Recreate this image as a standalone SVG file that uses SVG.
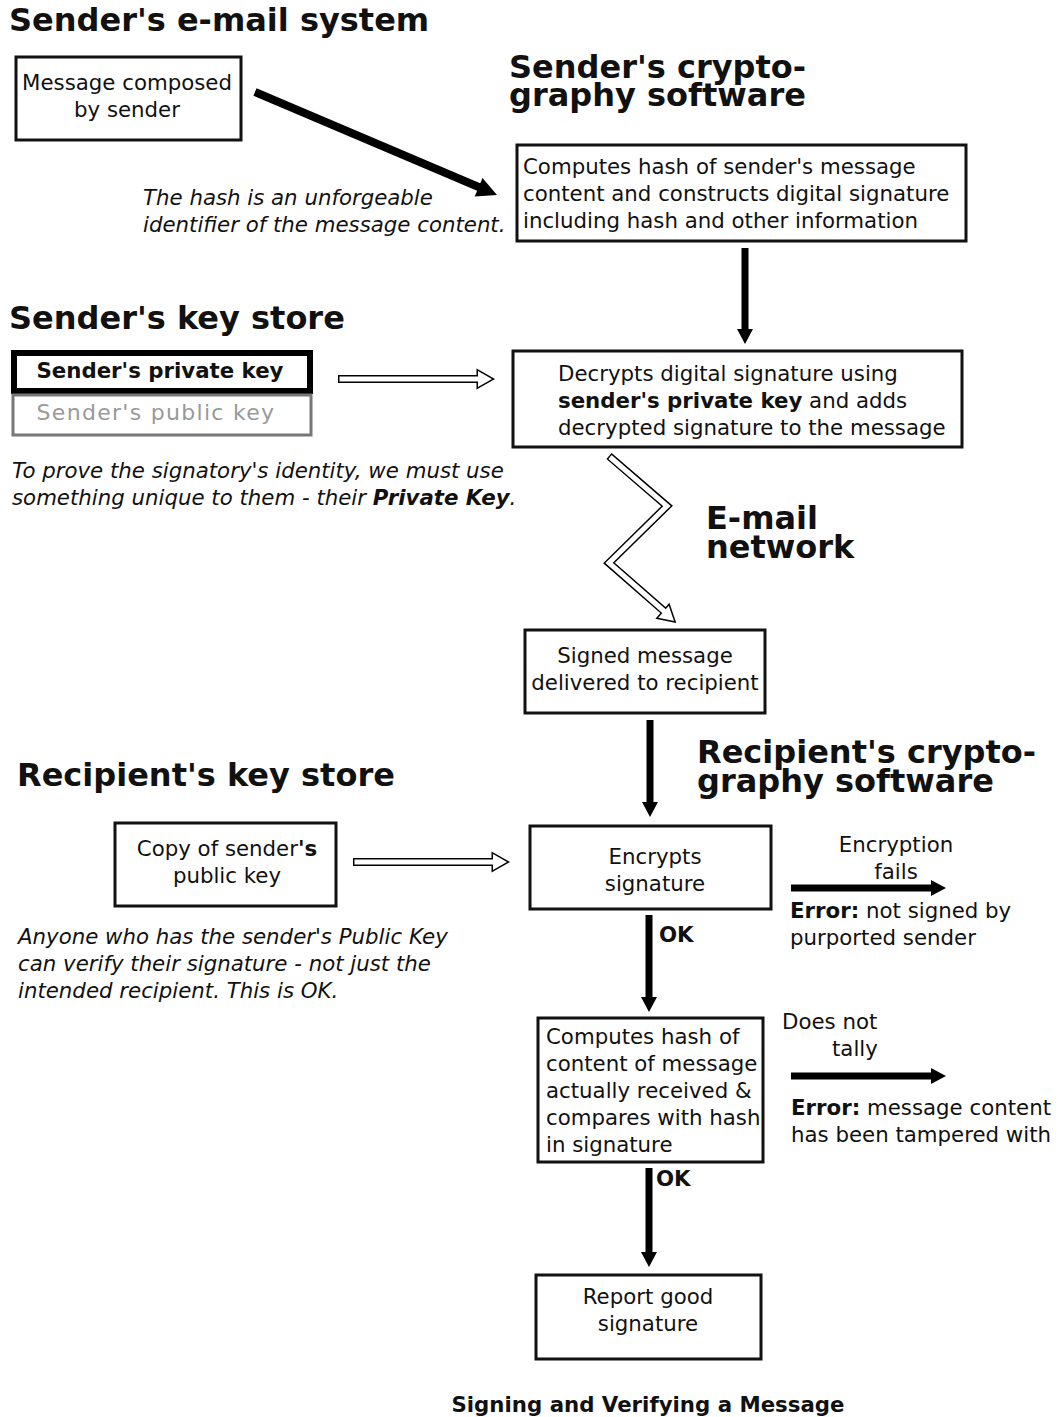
<svg xmlns="http://www.w3.org/2000/svg" width="1063" height="1417" viewBox="0 0 1063 1417">
<style>
text{font-family:"DejaVu Sans","Liberation Sans",sans-serif;fill:#111;}
.h{font-size:32px;font-weight:bold;}
.t{font-size:21.3px;}
.i{font-size:21.3px;font-style:italic;}
.c{text-anchor:middle;}
.b{font-weight:bold;}
.box{fill:#fff;stroke:#111;stroke-width:3;}
.ln{stroke:#000;stroke-width:7;fill:none;}
.hd{fill:#000;}
.ho{stroke:#000;stroke-width:8;fill:none;stroke-linejoin:miter;}
.hi{stroke:#fff;stroke-width:5;fill:none;stroke-linejoin:miter;}
</style>
<rect width="1063" height="1417" fill="#fff"/>

<g id="titles">
<text class="h" x="9" y="31">Sender's e-mail system</text>
<text class="h" x="509" y="78">Sender's crypto-<tspan x="509" dy="28">graphy software</tspan></text>
<text class="h" x="9" y="329">Sender's key store</text>
<text class="h" x="706" y="529">E-mail<tspan x="706" dy="29">network</tspan></text>
<text class="h" x="17" y="786">Recipient's key store</text>
<text class="h" x="697" y="763">Recipient's crypto-<tspan x="697" dy="29">graphy software</tspan></text>
<text class="t b c" x="648" y="1412">Signing and Verifying a Message</text>
</g>

<g id="notes">
<text class="i" x="143" y="205">The hash is an unforgeable</text>
<text class="i" x="143" y="232">identifier of the message content.</text>
<text class="i" x="12" y="478">To prove the signatory's identity, we must use</text>
<text class="i" x="12" y="505">something unique to them - their <tspan class="b">Private Key</tspan>.</text>
<text class="i" x="18" y="944">Anyone who has the sender's Public Key</text>
<text class="i" x="18" y="971">can verify their signature - not just the</text>
<text class="i" x="18" y="998">intended recipient. This is OK.</text>
</g>

<g id="n-composed">
<rect class="box" x="16" y="57" width="225" height="83"/>
<text class="t c" x="127" y="90">Message composed</text>
<text class="t c" x="127" y="117">by sender</text>
</g>

<g id="n-hash">
<rect class="box" x="517" y="145" width="449" height="96"/>
<text class="t" x="523" y="174">Computes hash of sender's message</text>
<text class="t" x="523" y="201">content and constructs digital signature</text>
<text class="t" x="523" y="228">including hash and other information</text>
</g>

<g id="n-private">
<rect x="14" y="353" width="296" height="38" fill="#fff" stroke="#000" stroke-width="6"/>
<text class="t b c" x="160" y="378">Sender's private key</text>
</g>
<g id="n-public">
<rect x="13" y="395" width="298" height="40" fill="#fff" stroke="#777" stroke-width="3"/>
<text class="c" x="156" y="420" style="fill:#999;font-size:22px;letter-spacing:1.3px">Sender's public key</text>
</g>

<g id="n-decrypt">
<rect class="box" x="513" y="351" width="449" height="96"/>
<text class="t" x="558" y="381">Decrypts digital signature using</text>
<text class="t" x="558" y="408"><tspan class="b">sender's private key</tspan> and adds</text>
<text class="t" x="558" y="435">decrypted signature to the message</text>
</g>

<g id="n-delivered">
<rect class="box" x="525" y="630" width="240" height="83"/>
<text class="t c" x="645" y="663">Signed message</text>
<text class="t c" x="645" y="690">delivered to recipient</text>
</g>

<g id="n-copy">
<rect class="box" x="115" y="823" width="221" height="83"/>
<text class="t c" x="227" y="856">Copy of sender<tspan class="b">'s</tspan></text>
<text class="t c" x="227" y="883">public key</text>
</g>

<g id="n-encrypts">
<rect class="box" x="530" y="826" width="241" height="83"/>
<text class="t c" x="655" y="864">Encrypts</text>
<text class="t c" x="655" y="891">signature</text>
</g>

<g id="n-compare">
<rect class="box" x="538" y="1018" width="225" height="144"/>
<text class="t" x="546" y="1044">Computes hash of</text>
<text class="t" x="546" y="1071">content of message</text>
<text class="t" x="546" y="1098">actually received &amp;</text>
<text class="t" x="546" y="1125">compares with hash</text>
<text class="t" x="546" y="1152">in signature</text>
</g>

<g id="n-report">
<rect class="box" x="536" y="1275" width="225" height="84"/>
<text class="t c" x="648" y="1304">Report good</text>
<text class="t c" x="648" y="1331">signature</text>
</g>

<g id="err1">
<text class="t c" x="896" y="852">Encryption</text>
<text class="t c" x="896" y="879">fails</text>
<text class="t" x="790" y="918"><tspan class="b">Error:</tspan> not signed by</text>
<text class="t" x="790" y="945">purported sender</text>
</g>
<g id="err2">
<text class="t" x="782" y="1029">Does not</text>
<text class="t" x="832" y="1056">tally</text>
<text class="t" x="791" y="1115"><tspan class="b">Error:</tspan> message content</text>
<text class="t" x="791" y="1142">has been tampered with</text>
</g>

<g id="connectors">
<line x1="255" y1="92" x2="481" y2="188" stroke="#000" stroke-width="8"/>
<polygon class="hd" points="497,195 474.7,196.4 482.5,178"/>

<line class="ln" x1="745" y1="248" x2="745" y2="330"/>
<polygon class="hd" points="737,329 753,329 745,344"/>

<path class="ho" d="M338,379 H478"/>
<polygon points="478,371 492,379 478,387" fill="#000" stroke="#000" stroke-width="3"/>
<path class="hi" d="M339.5,379 H480"/>
<polygon points="478,371 492,379 478,387" fill="#fff"/>

<path class="ho" d="M609,456 L667,506 L609,563 L664,611"/>
<polygon points="674,621 658.2,617.7 668.8,605.7" fill="#000" stroke="#000" stroke-width="3"/>
<path class="hi" d="M610,457 L667,506 L609,563 L665,612"/>
<polygon points="674,621 658.2,617.7 668.8,605.7" fill="#fff"/>

<line class="ln" x1="650" y1="720" x2="650" y2="803"/>
<polygon class="hd" points="642,802 658,802 650,817"/>

<path class="ho" d="M353,862 H493"/>
<polygon points="493,854 507,862 493,870" fill="#000" stroke="#000" stroke-width="3"/>
<path class="hi" d="M354.5,862 H495"/>
<polygon points="493,854 507,862 493,870" fill="#fff"/>

<line class="ln" x1="649" y1="915" x2="649" y2="998"/>
<polygon class="hd" points="641,997 657,997 649,1012"/>
<text class="t b" x="659" y="942">OK</text>

<line class="ln" x1="791" y1="888" x2="932" y2="888"/>
<polygon class="hd" points="931,880 946,888 931,896"/>

<line class="ln" x1="791" y1="1076" x2="932" y2="1076"/>
<polygon class="hd" points="931,1068 946,1076 931,1084"/>

<line class="ln" x1="649" y1="1168" x2="649" y2="1253"/>
<polygon class="hd" points="641,1252 657,1252 649,1267"/>
<text class="t b" x="656" y="1186">OK</text>
</g>
</svg>
